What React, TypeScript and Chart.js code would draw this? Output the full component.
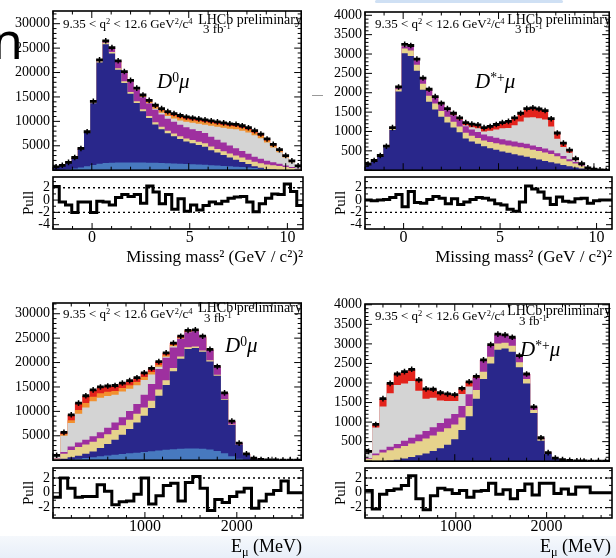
import React, { useEffect, useRef } from 'react';
import { Chart, registerables } from 'chart.js';

Chart.register(...registerables);

const SERIF = "'Liberation Serif', 'Times New Roman', serif";

// ---------------- binning ----------------
const MM2_RANGE = [-2, 10.8]; // Missing mass^2, 40 bins
const EMU_RANGE = [0, 2720]; // E_mu (MeV), 34 bins

// ---------------- tick labels ----------------
const D0_Y_TICKS = [5000, 10000, 15000, 20000, 25000, 30000];
const DST_Y_TICKS = [500, 1000, 1500, 2000, 2500, 3000, 3500, 4000];
const MM2_X_TICKS = [0, 5, 10];
const EMU_X_TICKS = [1000, 2000];
const PULL_TICKS_TOP = [-4, -2, 0, 2];
const PULL_TICKS_BOTTOM = [-2, 0, 2];

// ---------------- colours ----------------
const COL_LBLUE = '#4779bf';
const COL_NAVY = '#29278b';
const COL_KHAKI = '#e6d38c';
const COL_PURPLE = '#9e309f';
const COL_GREY = '#d4d4d4';
const COL_ORANGE = '#f2902f';
const COL_RED = '#e3231c';

// ---------------- D0 mu : missing mass^2 ----------------
const d0MmData = [700, 1000, 1600, 2600, 4450, 7870, 14100, 22600, 26500, 25100, 22400, 20200, 18400, 16800, 15400, 14300, 13300, 12600, 12000, 11600, 11200, 10900, 10700, 10500, 10300, 10100, 9900, 9700, 9500, 9400, 9100, 8700, 8100, 7400, 6400, 5300, 4200, 3000, 1900, 900];
const d0MmLightBlue = [50, 100, 200, 350, 550, 800, 1050, 1300, 1450, 1550, 1600, 1600, 1600, 1580, 1560, 1530, 1500, 1460, 1420, 1380, 1330, 1280, 1220, 1160, 1100, 1030, 960, 880, 800, 720, 630, 540, 450, 300, 180, 100, 40, 10, 0, 0];
const d0MmNavy = [630, 870, 1360, 2170, 3770, 6850, 12670, 20750, 24350, 22350, 18980, 16270, 14060, 12160, 10500, 9150, 7860, 6950, 6160, 5580, 5050, 4620, 4300, 3980, 3710, 3070, 2640, 2220, 1800, 1430, 1070, 710, 350, 200, 70, 30, 20, 10, 0, 0];
const d0MmKhaki = [20, 30, 40, 60, 80, 120, 180, 250, 300, 300, 320, 340, 360, 380, 400, 430, 460, 490, 520, 550, 580, 610, 640, 670, 700, 730, 760, 790, 820, 850, 880, 900, 920, 930, 920, 880, 800, 650, 450, 220];
const d0MmPurple = [0, 0, 0, 20, 50, 100, 200, 300, 400, 900, 1500, 1900, 2200, 2400, 2500, 2550, 2550, 2500, 2450, 2400, 2350, 2300, 2250, 2200, 2100, 2000, 1900, 1800, 1650, 1500, 1350, 1200, 1050, 900, 750, 600, 450, 300, 180, 70];
const d0MmGrey = [0, 0, 0, 0, 0, 0, 0, 0, 0, 0, 0, 0, 0, 0, 50, 50, 210, 370, 530, 690, 890, 1090, 1290, 1490, 1690, 2270, 2640, 3010, 3430, 3900, 4170, 4370, 4400, 4220, 3730, 3050, 2370, 1630, 1000, 490];
const d0MmOrange = [0, 0, 0, 0, 0, 0, 0, 0, 0, 0, 0, 50, 100, 160, 220, 330, 400, 460, 510, 550, 550, 550, 550, 550, 550, 550, 550, 550, 550, 550, 550, 540, 510, 470, 420, 360, 300, 230, 160, 70];
const d0MmRed = [0, 0, 0, 0, 0, 0, 0, 0, 0, 0, 0, 40, 80, 120, 170, 260, 320, 370, 410, 450, 450, 450, 450, 450, 450, 450, 450, 450, 450, 450, 450, 440, 420, 380, 330, 280, 220, 170, 110, 50];
const d0MmPull = [2.2, -0.3, -0.8, -2.0, -0.3, -0.3, -2.0, -0.2, -0.3, -0.8, 0.4, 0.9, 0.6, 0.9, -0.5, 2.3, 1.3, -0.6, 0.9, -1.5, 0.2, -1.8, -0.8, -1.6, -0.9, -0.3, -0.6, -0.2, 0.3, 0.5, 0.6, -0.3, -1.9, -0.6, 0.3, 1.0, 0.9, 2.6, 1.4, -0.9];

// ---------------- D*+ mu : missing mass^2 ----------------
const dstMmData = [160, 250, 380, 620, 1100, 2150, 3250, 3220, 2870, 2380, 2090, 1900, 1730, 1590, 1470, 1350, 1230, 1190, 1170, 1100, 1130, 1180, 1230, 1260, 1350, 1470, 1590, 1610, 1580, 1540, 1330, 960, 700, 520, 300, 170, 60, 25, 10, 0];
const dstMmNavy = [150, 240, 360, 590, 1040, 2030, 3020, 2950, 2570, 2080, 1770, 1570, 1380, 1230, 1100, 980, 820, 740, 680, 620, 570, 525, 485, 450, 415, 380, 345, 310, 275, 240, 205, 170, 135, 100, 70, 45, 20, 8, 3, 0];
const dstMmKhaki = [5, 5, 10, 15, 30, 60, 120, 140, 150, 150, 150, 150, 150, 150, 150, 150, 150, 150, 150, 150, 160, 170, 180, 190, 200, 210, 220, 220, 220, 220, 215, 190, 160, 130, 100, 70, 35, 12, 4, 0];
const dstMmPurple = [0, 0, 0, 5, 10, 30, 60, 90, 120, 150, 160, 170, 170, 170, 170, 170, 165, 160, 155, 150, 145, 140, 135, 130, 125, 120, 115, 110, 105, 100, 90, 80, 70, 55, 40, 20, 5, 0, 0, 0];
const dstMmGrey = [0, 0, 0, 0, 0, 0, 0, 0, 0, 0, 0, 0, 0, 0, 0, 0, 25, 60, 95, 80, 145, 215, 280, 320, 420, 550, 680, 730, 740, 750, 620, 370, 235, 165, 50, 15, 0, 5, 3, 0];
const dstMmRed = [0, 0, 0, 0, 0, 0, 0, 0, 0, 0, 10, 20, 30, 40, 50, 60, 70, 80, 90, 100, 110, 130, 150, 170, 190, 210, 230, 240, 240, 230, 200, 150, 100, 70, 40, 20, 5, 0, 0, 0];
const dstMmPull = [0, -0.1, 0, 0.1, 0.4, 0.9, -1.1, 1.4, -0.4, -0.5, 0.1, 0.6, 0.3, -0.6, 0.2, -0.7, -0.3, 0.1, 0.4, 0.3, 0, -0.6, -0.8, -1.5, -1.8, -0.3, 2.3, 1.8, 1.3, 0.3, -0.7, 0.5, -0.2, -0.3, 0.2, 0.3, -0.5, -0.1, 0, 0];

// ---------------- D0 mu : E_mu ----------------
const d0EData = [1000, 5700, 9300, 11700, 13200, 14400, 15000, 15200, 15300, 15800, 16300, 16900, 17900, 18800, 20200, 22000, 24000, 25400, 26600, 26700, 25400, 22700, 19200, 13800, 8000, 3500, 1300, 400, 150, 80, 50, 30, 20, 10];
const d0ELightBlue = [0, 50, 150, 300, 450, 600, 800, 950, 1100, 1250, 1400, 1550, 1700, 1850, 2000, 2150, 2250, 2350, 2400, 2400, 2350, 2200, 1900, 1400, 800, 300, 100, 30, 10, 0, 0, 0, 0, 0];
const d0ENavy = [100, 250, 450, 600, 850, 1200, 1700, 2350, 3100, 3950, 5000, 6150, 7400, 8850, 11200, 13250, 15950, 18450, 20400, 20600, 19850, 18000, 15400, 11000, 6400, 2800, 1050, 330, 120, 70, 45, 25, 15, 8];
const d0EKhaki = [250, 1000, 1500, 1800, 1900, 2000, 2000, 2000, 2000, 1950, 1900, 1800, 1700, 1500, 1300, 1000, 700, 450, 350, 300, 280, 250, 200, 150, 100, 50, 20, 5, 0, 0, 0, 0, 0, 0];
const d0EPurple = [100, 400, 700, 900, 1000, 1100, 1200, 1350, 1500, 1650, 1800, 2000, 2600, 3400, 4200, 4600, 4200, 3650, 3050, 3100, 2690, 2100, 1600, 1190, 670, 350, 130, 35, 20, 0, 0, 0, 0, 0];
const d0EGrey = [450, 3300, 4800, 5900, 6600, 7200, 7100, 6500, 5700, 5250, 4550, 3850, 3050, 1950, 450, 200, 250, 0, 0, 0, 0, 0, 0, 0, 0, 0, 0, 0, 0, 0, 0, 0, 0, 0];
const d0EOrange = [50, 300, 600, 800, 900, 900, 900, 850, 800, 750, 700, 650, 600, 500, 400, 300, 250, 200, 150, 100, 80, 50, 30, 20, 10, 0, 0, 0, 0, 0, 0, 0, 0, 0];
const d0ERed = [50, 400, 1100, 1400, 1500, 1400, 1300, 1200, 1100, 1000, 950, 900, 850, 750, 650, 500, 400, 300, 250, 200, 150, 100, 70, 40, 20, 0, 0, 0, 0, 0, 0, 0, 0, 0];
const d0EPull = [-0.6, 2.0, 0.6, -0.6, -0.5, -0.5, 1.1, 0.2, -1.6, -1.2, -1.1, -0.2, 2.0, -1.5, -0.4, 1.0, 1.3, -1.1, 1.4, 2.2, 0.6, -2.4, -0.9, -1.3, -0.5, 0.1, 0.6, -2.1, -1.1, -0.2, 0.3, 1.6, 0, 0];

// ---------------- D*+ mu : E_mu ----------------
const dstEData = [250, 940, 1600, 1990, 2230, 2290, 2350, 2080, 1850, 1840, 1750, 1720, 1700, 1860, 2030, 2170, 2590, 2980, 3250, 3230, 3170, 2700, 2230, 1390, 600, 220, 80, 40, 20, 10, 5, 3, 0, 0];
const dstENavy = [0, 0, 0, 20, 40, 70, 110, 150, 200, 260, 330, 420, 560, 800, 1150, 1600, 2100, 2500, 2850, 2880, 2800, 2400, 1990, 1230, 520, 190, 70, 35, 18, 9, 5, 3, 0, 0];
const dstEKhaki = [60, 150, 220, 260, 290, 320, 340, 360, 380, 400, 420, 420, 380, 320, 260, 220, 190, 170, 160, 150, 150, 130, 110, 80, 40, 15, 5, 3, 1, 0, 0, 0, 0, 0];
const dstEPurple = [20, 50, 70, 90, 110, 130, 150, 170, 190, 210, 230, 250, 270, 290, 300, 310, 300, 280, 220, 200, 200, 170, 130, 80, 40, 15, 5, 2, 1, 1, 0, 0, 0, 0];
const dstEGrey = [150, 660, 1110, 1370, 1510, 1470, 1450, 1120, 830, 750, 570, 450, 330, 310, 200, 0, 0, 0, 20, 0, 20, 0, 0, 0, 0, 0, 0, 0, 0, 0, 0, 0, 0, 0];
const dstERed = [20, 80, 200, 250, 280, 300, 300, 280, 250, 220, 200, 180, 160, 140, 120, 40, 0, 0, 0, 0, 0, 0, 0, 0, 0, 0, 0, 0, 0, 0, 0, 0, 0, 0];
const dstEPull = [0.3, -2.2, -0.2, 0.3, 0.5, 1.0, 2.3, -0.8, -2.3, -0.4, 0.6, 0.4, -0.1, 0.3, -0.6, 0.2, 0.3, 1.3, -0.2, 0.4, -0.8, 0.3, 1.2, -0.3, 1.3, 1.3, -0.1, 0.5, -0.2, 0.8, 0.8, 0, 0, 0];

// ---------------- panel descriptions ----------------
const PANELS = [
  {
    range: MM2_RANGE, data: d0MmData, pull: d0MmPull, yMax: 32600, yTicks: D0_Y_TICKS, yMinor: 1000,
    xTicks: MM2_X_TICKS, xMinor: 1, pullRange: [-4.7, 3.75], pullTicks: PULL_TICKS_TOP, xTitle: 'Missing mass² (GeV / c²)²',
    layers: [
      { label: 'comb', values: d0MmLightBlue, color: COL_LBLUE },
      { label: 'signal', values: d0MmNavy, color: COL_NAVY },
      { label: 'bkgA', values: d0MmKhaki, color: COL_KHAKI },
      { label: 'bkgB', values: d0MmPurple, color: COL_PURPLE },
      { label: 'bkgC', values: d0MmGrey, color: COL_GREY },
      { label: 'bkgD', values: d0MmOrange, color: COL_ORANGE },
      { label: 'bkgE', values: d0MmRed, color: COL_RED },
    ],
  },
  {
    range: MM2_RANGE, data: dstMmData, pull: dstMmPull, yMax: 4085, yTicks: DST_Y_TICKS, yMinor: 100,
    xTicks: MM2_X_TICKS, xMinor: 1, pullRange: [-4.7, 3.75], pullTicks: PULL_TICKS_TOP, xTitle: 'Missing mass² (GeV / c²)²',
    layers: [
      { label: 'signal', values: dstMmNavy, color: COL_NAVY },
      { label: 'bkgA', values: dstMmKhaki, color: COL_KHAKI },
      { label: 'bkgB', values: dstMmPurple, color: COL_PURPLE },
      { label: 'bkgC', values: dstMmGrey, color: COL_GREY },
      { label: 'bkgE', values: dstMmRed, color: COL_RED },
    ],
  },
  {
    range: EMU_RANGE, data: d0EData, pull: d0EPull, yMax: 32200, yTicks: D0_Y_TICKS, yMinor: 1000,
    xTicks: EMU_X_TICKS, xMinor: 200, pullRange: [-3.4, 3.35], pullTicks: PULL_TICKS_BOTTOM, xTitle: '',
    layers: [
      { label: 'comb', values: d0ELightBlue, color: COL_LBLUE },
      { label: 'signal', values: d0ENavy, color: COL_NAVY },
      { label: 'bkgA', values: d0EKhaki, color: COL_KHAKI },
      { label: 'bkgB', values: d0EPurple, color: COL_PURPLE },
      { label: 'bkgC', values: d0EGrey, color: COL_GREY },
      { label: 'bkgD', values: d0EOrange, color: COL_ORANGE },
      { label: 'bkgE', values: d0ERed, color: COL_RED },
    ],
  },
  {
    range: EMU_RANGE, data: dstEData, pull: dstEPull, yMax: 4020, yTicks: DST_Y_TICKS, yMinor: 100,
    xTicks: EMU_X_TICKS, xMinor: 200, pullRange: [-3.4, 3.35], pullTicks: PULL_TICKS_BOTTOM, xTitle: '',
    layers: [
      { label: 'signal', values: dstENavy, color: COL_NAVY },
      { label: 'bkgA', values: dstEKhaki, color: COL_KHAKI },
      { label: 'bkgB', values: dstEPurple, color: COL_PURPLE },
      { label: 'bkgC', values: dstEGrey, color: COL_GREY },
      { label: 'bkgE', values: dstERed, color: COL_RED },
    ],
  },
];

// ---------------- layout (pixels) ----------------
const COLS = [
  { left: 0, width: 308, padRight: 5 },
  { left: 312, width: 304, padRight: 4 },
];
const ROWS = [
  { mainTop: [0, 0], mainPad: [11, 12], pullTop: 170, pullH: 102, xAxisH: 43 },
  { mainTop: [290, 291], mainPad: [13, 13], pullTop: 461, pullH: 97, xAxisH: 40 },
];
const MAIN_H = 177;
const Y_AXIS_W = 53;

// ---------------- helpers ----------------
function centers(min: number, max: number, n: number) {
  const w = (max - min) / n;
  return Array.from({ length: n }, (_, i) => min + (i + 0.5) * w);
}
function stepPoints(vals: number[], min: number, max: number) {
  const c = centers(min, max, vals.length);
  return [{ x: min, y: vals[0] }, ...vals.map((v, i) => ({ x: c[i], y: v })), { x: max, y: vals[vals.length - 1] }];
}
function cumulate(layers: number[][]) {
  const out: number[][] = [];
  let acc = layers[0].map(() => 0);
  for (const l of layers) {
    acc = acc.map((a, i) => a + l[i]);
    out.push(acc);
  }
  return out;
}
const fixedTicks = (vals: number[]) => (s: any) => {
  s.ticks = vals.map((v) => ({ value: v }));
};

// ROOT-like frame with inward ticks on every side
const frameTicks = {
  id: 'frameTicks',
  afterDatasetsDraw(chart: any, _a: any, o: any) {
    const { ctx, chartArea: a } = chart;
    const xs = chart.scales.x;
    const ys = chart.scales.y;
    ctx.save();
    ctx.strokeStyle = '#000';
    ctx.lineWidth = 1;
    const seg = (x1: number, y1: number, x2: number, y2: number) => {
      ctx.beginPath();
      ctx.moveTo(x1, y1);
      ctx.lineTo(x2, y2);
      ctx.stroke();
    };
    const k0 = Math.ceil(xs.min / o.xMinor - 1e-9);
    const k1 = Math.floor(xs.max / o.xMinor + 1e-9);
    for (let k = k0; k <= k1; k++) {
      const px = xs.getPixelForValue(k * o.xMinor);
      const len = Math.abs(k % 5) === 0 ? o.xLen : o.xLen / 2;
      seg(px, a.bottom, px, a.bottom - len);
      if (o.top) seg(px, a.top, px, a.top + len);
    }
    const j0 = Math.ceil(ys.min / o.yMinor - 1e-9);
    const j1 = Math.floor(ys.max / o.yMinor + 1e-9);
    for (let j = j0; j <= j1; j++) {
      const py = ys.getPixelForValue(j * o.yMinor);
      const len = Math.abs(j % o.yRatio) === 0 ? o.yLen : o.yLen / 2;
      seg(a.left, py, a.left + len, py);
      seg(a.right, py, a.right - len, py);
    }
    ctx.lineWidth = 1.6;
    ctx.strokeRect(a.left, a.top, a.right - a.left, a.bottom - a.top);
    ctx.restore();
  },
};

function buildMain(p: any, padTop: number, padRight: number) {
  const [xMin, xMax] = p.range;
  const c = centers(xMin, xMax, p.data.length);
  const cum = cumulate(p.layers.map((l: any) => l.values));
  const pts = c.map((x, i) => ({ x, y: p.data[i] }));
  const datasets: any[] = [
    { label: 'Data', data: pts, showLine: false, pointStyle: 'line', pointRadius: 3.4, pointBorderWidth: 2.8, pointBorderColor: '#000', pointBackgroundColor: '#000', order: 0 },
    { label: 'Data error', data: pts, showLine: false, pointStyle: 'line', pointRotation: 90, pointRadius: 2.8, pointBorderWidth: 1.5, pointBorderColor: '#000', order: 0 },
  ];
  p.layers.forEach((l: any, k: number) => {
    datasets.push({
      label: l.label, data: stepPoints(cum[k], xMin, xMax), stepped: 'middle', fill: 'origin',
      backgroundColor: l.color, borderColor: l.color, borderWidth: 0, pointRadius: 0, order: k + 1,
    });
  });
  return {
    type: 'line',
    data: { datasets },
    options: {
      animation: false, responsive: false, events: [],
      layout: { padding: { left: 0, top: padTop, right: padRight, bottom: 0 } },
      plugins: {
        legend: { display: false }, tooltip: { enabled: false },
        frameTicks: { xMinor: p.xMinor, xLen: 7, yMinor: p.yMinor, yRatio: 5, yLen: 7, top: true },
      },
      scales: {
        x: { type: 'linear', min: xMin, max: xMax, display: false },
        y: {
          type: 'linear', min: 0, max: p.yMax,
          grid: { display: false, drawTicks: false }, border: { display: false },
          afterBuildTicks: fixedTicks(p.yTicks),
          ticks: { autoSkip: false, padding: 3, color: '#000', font: { family: SERIF, size: 14 }, callback: (v: number) => String(v) },
          afterFit: (s: any) => { s.width = Y_AXIS_W; s.paddingTop = 0; s.paddingBottom = 0; },
        },
      },
    },
    plugins: [frameTicks],
  };
}

function buildPull(p: any, padRight: number, xAxisH: number) {
  const [xMin, xMax] = p.range;
  const datasets: any[] = [
    { label: 'Pull', data: stepPoints(p.pull, xMin, xMax), stepped: 'middle', fill: false, borderColor: '#000', borderWidth: 3, borderJoinStyle: 'miter', pointRadius: 0, order: 0 },
    { label: '+2', data: [{ x: xMin, y: 2 }, { x: xMax, y: 2 }], borderColor: '#000', borderWidth: 1.3, borderDash: [2, 3], pointRadius: 0, fill: false, order: 1 },
    { label: '-2', data: [{ x: xMin, y: -2 }, { x: xMax, y: -2 }], borderColor: '#000', borderWidth: 1.3, borderDash: [2, 3], pointRadius: 0, fill: false, order: 1 },
  ];
  return {
    type: 'line',
    data: { datasets },
    options: {
      animation: false, responsive: false, events: [],
      layout: { padding: { left: 0, top: 7, right: padRight, bottom: 0 } },
      plugins: {
        legend: { display: false }, tooltip: { enabled: false },
        frameTicks: { xMinor: p.xMinor, xLen: 6, yMinor: 1, yRatio: 2, yLen: 6, top: false },
      },
      scales: {
        x: {
          type: 'linear', min: xMin, max: xMax,
          grid: { display: false, drawTicks: false }, border: { display: false },
          afterBuildTicks: fixedTicks(p.xTicks),
          ticks: { autoSkip: false, maxRotation: 0, padding: -1, color: '#000', font: { family: SERIF, size: 16 }, callback: (v: number) => String(v) },
          title: p.xTitle
            ? { display: true, text: p.xTitle, align: 'end', color: '#000', font: { family: SERIF, size: 17 }, padding: { top: 0, bottom: 4 } }
            : { display: false },
          afterFit: (s: any) => { s.height = xAxisH; s.paddingLeft = 0; s.paddingRight = 0; },
        },
        y: {
          type: 'linear', min: p.pullRange[0], max: p.pullRange[1],
          grid: { display: false, drawTicks: false }, border: { display: false },
          afterBuildTicks: fixedTicks(p.pullTicks),
          ticks: { autoSkip: false, padding: 3, color: '#000', font: { family: SERIF, size: 14 }, callback: (v: number) => String(v) },
          title: { display: true, text: 'Pull', color: '#000', font: { family: SERIF, size: 15 }, padding: { top: 20, bottom: 0 } },
          afterFit: (s: any) => { s.width = Y_AXIS_W; s.paddingTop = 0; s.paddingBottom = 0; },
        },
      },
    },
    plugins: [frameTicks],
  };
}

function ChartCanvas({ left, top, width, height, make }: any) {
  const ref = useRef<HTMLCanvasElement>(null);
  useEffect(() => {
    const chart = new Chart(ref.current as HTMLCanvasElement, make());
    return () => chart.destroy();
  }, []);
  return <canvas ref={ref} width={width} height={height} style={{ position: 'absolute', left, top, width, height }} />;
}

const Sup = ({ children }: any) => (
  <sup style={{ fontSize: '0.65em', verticalAlign: '0.45em', lineHeight: 0 }}>{children}</sup>
);
const Sub = ({ children }: any) => (
  <sub style={{ fontSize: '0.68em', verticalAlign: '-0.3em', lineHeight: 0 }}>{children}</sub>
);

function Txt({ x, base, size, right, italic, family, children }: any) {
  const style: any = {
    position: 'absolute', top: base - 0.84 * size, fontFamily: family || SERIF, fontSize: size,
    lineHeight: 1, whiteSpace: 'nowrap', color: '#000', fontStyle: italic ? 'italic' : 'normal',
  };
  if (right) style.right = 616 - x; else style.left = x;
  return <div style={style}>{children}</div>;
}

const HEADERS = [
  { q: [63, 28], lhcb: [302, 25], fb: [203, 33], d: [157, 89], label: 'D0' },
  { q: [375, 28], lhcb: [611, 25], fb: [515, 33], d: [475, 89], label: 'Dst' },
  { q: [63, 318], lhcb: [302, 313], fb: [204, 322], d: [225, 353], label: 'D0' },
  { q: [375, 320], lhcb: [611, 316], fb: [519, 325], d: [520, 357], label: 'Dst' },
];

export default function App() {
  const charts: any[] = [];
  PANELS.forEach((p, idx) => {
    const col = COLS[idx % 2];
    const row = ROWS[Math.floor(idx / 2)];
    charts.push(
      <ChartCanvas key={'pull' + idx} left={col.left} top={row.pullTop} width={col.width} height={row.pullH}
        make={() => buildPull(p, col.padRight, row.xAxisH)} />
    );
  });
  PANELS.forEach((p, idx) => {
    const col = COLS[idx % 2];
    const row = ROWS[Math.floor(idx / 2)];
    const c = idx % 2;
    charts.push(
      <ChartCanvas key={'main' + idx} left={col.left} top={row.mainTop[c]} width={col.width} height={MAIN_H}
        make={() => buildMain(p, row.mainPad[c], col.padRight)} />
    );
  });

  return (
    <div style={{ position: 'absolute', left: 0, top: 0, width: 616, height: 558, background: '#fff', overflow: 'hidden' }}>
      <div style={{ position: 'absolute', left: 0, top: 536, width: 616, height: 22, background: 'linear-gradient(#f5f8fc, #e8eff9)' }} />
      <div style={{ position: 'absolute', left: 375, top: 0, width: 188, height: 3, background: '#cfe0f4', borderRadius: 2 }} />
      <div style={{ position: 'absolute', left: 312, top: 95, width: 11, height: 1, background: '#999' }} />
      <Txt x={-8} base={57} size={50} family="'Noto Sans', sans-serif">n</Txt>
      {charts}
      {HEADERS.map((h, i) => (
        <React.Fragment key={'h' + i}>
          <Txt x={h.q[0]} base={h.q[1]} size={13}>{'9.35 < q'}<Sup>2</Sup>{' < 12.6 GeV'}<Sup>2</Sup>/c<Sup>4</Sup></Txt>
          <Txt x={h.lhcb[0]} base={h.lhcb[1]} size={14} right>LHCb preliminary</Txt>
          <Txt x={h.fb[0]} base={h.fb[1]} size={13}>3 fb<Sup>-1</Sup></Txt>
          <Txt x={h.d[0]} base={h.d[1]} size={21}>
            {h.label === 'D0' ? (<><i>D</i><Sup>0</Sup><i>μ</i></>) : (<><i>D</i><Sup>*+</Sup><i>μ</i></>)}
          </Txt>
        </React.Fragment>
      ))}
      <Txt x={302} base={552} size={18} right>E<Sub>μ</Sub> (MeV)</Txt>
      <Txt x={611} base={552} size={18} right>E<Sub>μ</Sub> (MeV)</Txt>
    </div>
  );
}
